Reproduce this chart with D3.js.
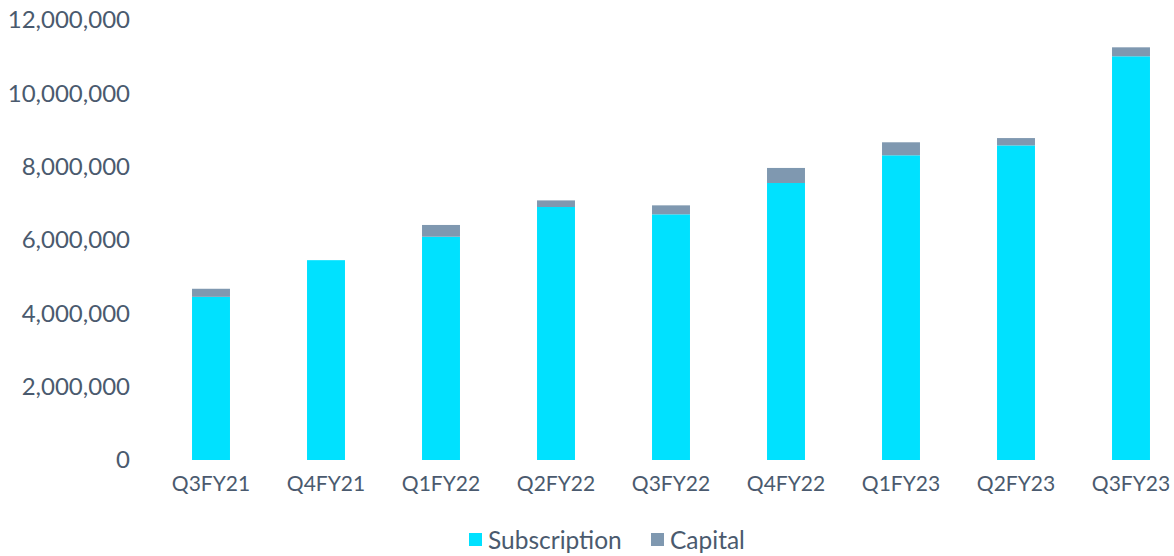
<!DOCTYPE html>
<html>
<head>
<meta charset="utf-8">
<script src="https://cdn.jsdelivr.net/npm/d3@7"></script>
<style>
	body { margin: 0; background: #fff; }
	text { font-family: Lato, "Open Sans", sans-serif; fill: #4A5A6E; }
</style>
</head>
<body>
<div id="chart-area"></div>
<script>

// Chart data
let quarters = ["Q3FY21", "Q4FY21", "Q1FY22", "Q2FY22", "Q3FY22", "Q4FY22", "Q1FY23", "Q2FY23", "Q3FY23"];
let subscription = [4450000, 5450000, 6090000, 6900000, 6700000, 7555000, 8310000, 8580000, 11010000];
let capital = [220000, 0, 320000, 180000, 245000, 410000, 355000, 200000, 245000];
let seriesNames = ["Subscription", "Capital"];
let yTicks = [0, 2000000, 4000000, 6000000, 8000000, 10000000, 12000000];

let width = 1174,
	height = 556;

let colors = {Subscription: "#00E1FF", Capital: "#7F98B0"};

let data = quarters.map((q, i) => ({quarter: q, Subscription: subscription[i], Capital: capital[i]}));

let svg = d3.select("#chart-area").append("svg")
	.attr("width", width)
	.attr("height", height);

let x = d3.scaleBand()
	.domain(quarters)
	.range([153.5, 1188.5])
	.paddingInner(0.67)
	.paddingOuter(0.335);

let y = d3.scaleLinear()
	.domain([0, 12000000])
	.range([460, 20]);

let stacked = d3.stack().keys(seriesNames)(data);

svg.selectAll(".series")
	.data(stacked)
	.enter()
	.append("g")
	.attr("class", "series")
	.attr("fill", d => colors[d.key])
	.selectAll("rect")
	.data(d => d.filter(s => s[1] > s[0]))
	.enter()
	.append("rect")
	.attr("x", d => x(d.data.quarter))
	.attr("width", x.bandwidth())
	.attr("y", d => y(d[1]))
	.attr("height", d => y(d[0]) - y(d[1]));

// y axis labels
let yAxis = d3.axisLeft(y)
	.tickValues(yTicks)
	.tickFormat(d3.format(","))
	.tickSize(0)
	.tickPadding(0);

svg.append("g")
	.attr("transform", "translate(130,0)")
	.call(yAxis)
	.call(g => g.select(".domain").remove())
	.selectAll("text")
	.attr("font-size", "24px")
	.attr("font-family", null)
	.attr("fill", null);

// x axis labels
let xAxis = d3.axisBottom(x).tickSize(0).tickPadding(0);

svg.append("g")
	.attr("transform", "translate(0,476)")
	.call(xAxis)
	.call(g => g.select(".domain").remove())
	.selectAll("text")
	.attr("font-size", "21px")
	.attr("font-family", null)
	.attr("fill", null);

// legend
let legendX = [469, 651];
let legend = svg.selectAll(".legend")
	.data(seriesNames)
	.enter()
	.append("g")
	.attr("class", "legend")
	.attr("transform", (d, i) => "translate(" + legendX[i] + ",533)");

legend.append("rect")
	.attr("width", 13)
	.attr("height", 13)
	.attr("fill", d => colors[d]);

legend.append("text")
	.attr("x", 19)
	.attr("y", 7)
	.attr("dy", "0.35em")
	.attr("font-size", "24.5px")
	.text(d => d);

</script>
</body>
</html>
